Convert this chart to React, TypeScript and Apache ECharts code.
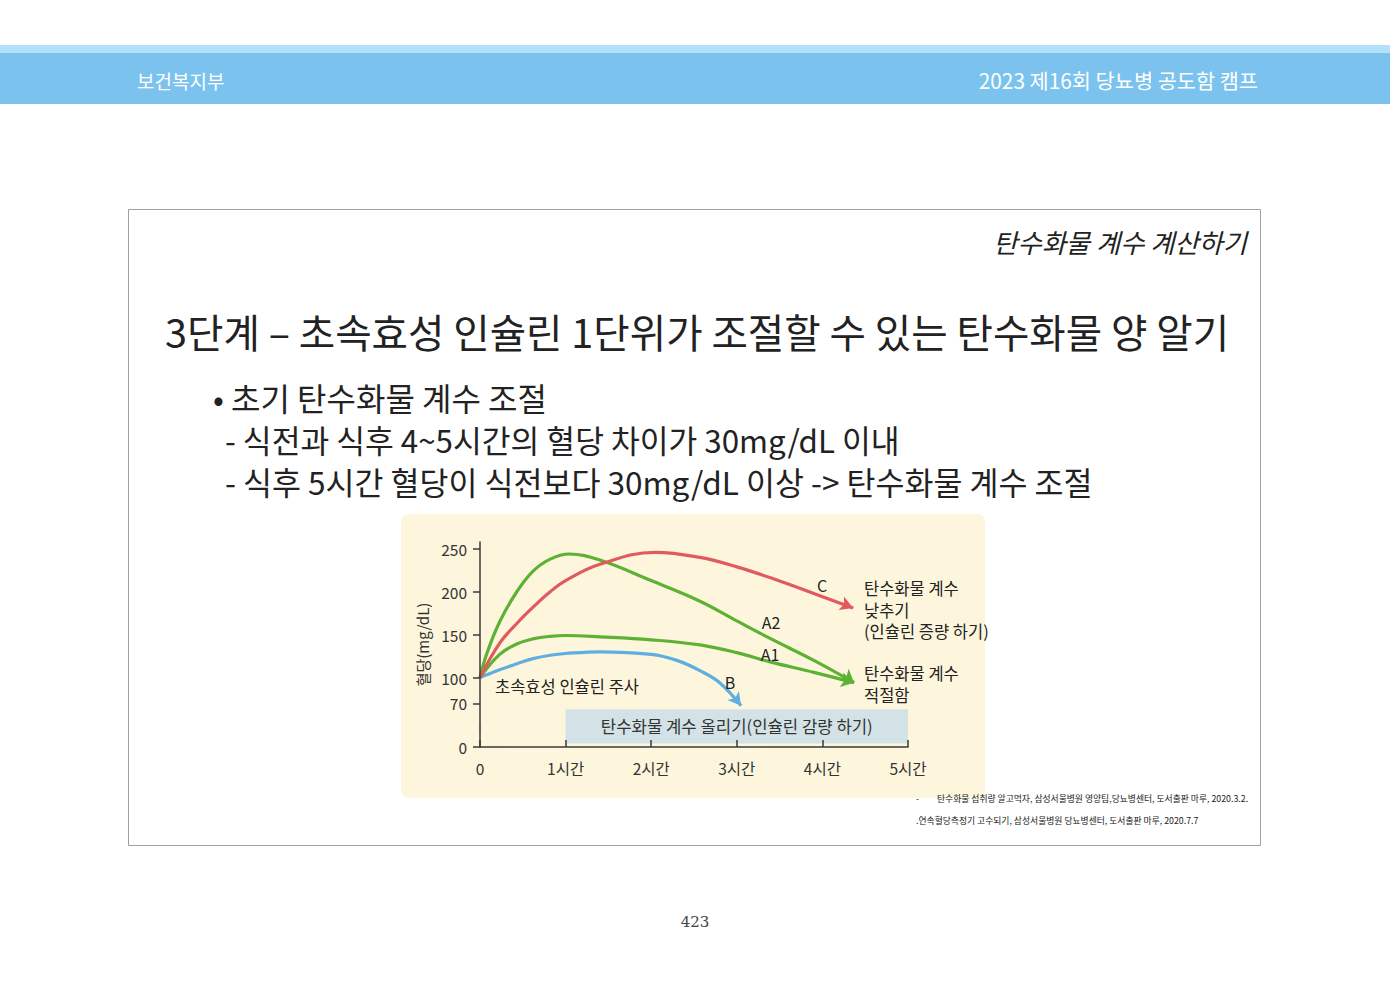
import React, { useEffect, useRef } from 'react';
import * as echarts from 'echarts';

const FONT = '"Noto Sans CJK KR", "Noto Sans", sans-serif';

// ---- axis definitions ----
const xTickValues = [0, 1, 2, 3, 4, 5];
const xTickLabels = ['0', '1시간', '2시간', '3시간', '4시간', '5시간'];
const yTickValues = [0, 70, 100, 150, 200, 250];
const yAxisName = '혈당(mg/dL)';

// ---- curve C (red) ----
const hoursC = [0, 0.23, 0.43, 0.62, 0.82, 1.0, 1.4, 2.05, 2.57, 3.0, 3.46, 3.9, 4.36];
const glucoseC = [100, 140, 163, 182, 200, 213, 232, 246, 240, 229, 214, 198, 181];

// ---- curve A2 (green, high) ----
const hoursA2 = [0, 0.08, 0.23, 0.43, 0.62, 0.82, 1.04, 1.4, 2.0, 2.57, 3.0, 3.4, 3.9, 4.37];
const glucoseA2 = [100, 128, 165, 200, 224, 238, 244, 237, 213, 189, 166, 145, 120, 94];

// ---- curve A1 (green, low) ----
const hoursA1 = [0, 0.23, 0.43, 0.62, 0.82, 1.0, 1.4, 2.0, 2.57, 3.0, 3.4, 3.9, 4.37];
const glucoseA1 = [100, 127, 139, 145, 148, 149, 147.5, 144, 138, 129, 118, 106, 94];

// ---- curve B (blue) ----
const hoursB = [0, 0.23, 0.43, 0.62, 0.82, 1.0, 1.4, 2.0, 2.3, 2.57, 2.8, 3.05];
const glucoseB = [100, 109, 116, 122, 126, 128, 130, 127, 120, 108, 94, 67];

// ---- shaded zone ----
const zoneHours = [1, 5];
const zoneGlucose = [4, 63];
const zoneLabel = '탄수화물 계수 올리기(인슐린 감량 하기)';

// ---- page texts ----
const headerLeft = '보건복지부';
const headerRight = '2023 제16회 당뇨병 공도함 캠프';
const sectionTitle = '탄수화물 계수 계산하기';
const mainTitle = '3단계 – 초속효성 인슐린 1단위가 조절할 수 있는 탄수화물 양 알기';
const bullet1 = '• 초기 탄수화물 계수 조절';
const bullet2 = '- 식전과 식후 4~5시간의 혈당 차이가 30mg/dL 이내';
const bullet3 = '- 식후 5시간 혈당이 식전보다 30mg/dL 이상 -> 탄수화물 계수 조절';
const noteLower = '탄수화물 계수\n낮추기\n(인슐린 증량 하기)';
const noteKeep = '탄수화물 계수\n적절함';
const injectionNote = '초속효성 인슐린 주사';
const footnote1 = '탄수화물 섭취량 알고먹자, 삼성서울병원 영양팀,당뇨병센터, 도서출판 마루, 2020.3.2.';
const footnote2 = '.연속혈당측정기 고수되기, 삼성서울병원 당뇨병센터, 도서출판 마루, 2020.7.7';
const pageNumber = '423';

const RED = '#e05a5e';
const GREEN = '#5db233';
const BLUE = '#5eaee0';

function curve(name: string, hours: number[], values: number[], color: string, rot: number) {
  const data = hours.map((h, i) =>
    i === hours.length - 1
      ? { value: [h, values[i]], symbol: 'arrow', symbolSize: [11, 13], symbolRotate: rot, itemStyle: { color } }
      : { value: [h, values[i]], symbol: 'none' }
  );
  return {
    type: 'line',
    name,
    data,
    smooth: 0.4,
    symbol: 'none',
    showSymbol: true,
    showAllSymbol: true,
    lineStyle: { color, width: 3.2 },
    itemStyle: { color },
    z: 3,
  };
}

function txt(text: string, x: number, y: number, size: number, opts: any = {}) {
  return {
    type: 'text',
    z: 20,
    style: {
      text,
      x,
      y,
      fill: opts.fill || '#222',
      fontSize: size,
      fontFamily: opts.fontFamily || FONT,
      fontStyle: opts.fontStyle || 'normal',
      fontWeight: opts.fontWeight || 'normal',
      align: opts.align || 'left',
      verticalAlign: opts.verticalAlign || 'middle',
      lineHeight: opts.lineHeight,
    },
  };
}

export default function App() {
  const ref = useRef<HTMLDivElement>(null);
  useEffect(() => {
    const chart = echarts.init(ref.current!, null, { renderer: 'svg' });
    const option: any = {
      animation: false,
      backgroundColor: '#ffffff',
      grid: { left: 480, top: 542, width: 428, height: 205, containLabel: false, z: 5 },
      xAxis: {
        type: 'value',
        min: 0,
        max: 5,
        interval: 1,
        z: 5,
        splitLine: { show: false },
        axisLine: { show: true, lineStyle: { color: '#3a3a3a', width: 1.5 } },
        axisTick: { show: true, inside: true, length: 7, lineStyle: { color: '#3a3a3a', width: 1.5 } },
        axisLabel: {
          margin: 13,
          fontSize: 15.5,
          color: '#333',
          fontFamily: FONT,
          formatter: (v: number) => xTickLabels[xTickValues.indexOf(v)] ?? '',
        },
      },
      yAxis: {
        type: 'value',
        min: 0,
        max: 258,
        z: 5,
        breaks: [{ start: 22, end: 41, gap: 0 }],
        breakArea: { show: false },
        name: yAxisName,
        nameLocation: 'middle',
        nameRotate: 90,
        nameGap: 50,
        nameTextStyle: { fontSize: 15, color: '#333', fontFamily: FONT },
        splitLine: { show: false },
        axisLine: { show: true, lineStyle: { color: '#3a3a3a', width: 1.5 } },
        axisTick: { show: true, length: 7, customValues: yTickValues, lineStyle: { color: '#3a3a3a', width: 1.5 } },
        axisLabel: { customValues: yTickValues, margin: 13, fontSize: 15.5, color: '#333', fontFamily: FONT },
      },
      graphic: [
        // header band
        { type: 'rect', z: -20, shape: { x: 0, y: 45, width: 1390, height: 8 }, style: { fill: '#b4e1fa' } },
        { type: 'rect', z: -20, shape: { x: 0, y: 53, width: 1390, height: 51 }, style: { fill: '#7bc3ee' } },
        txt(headerLeft, 137, 80, 19, { fill: '#ffffff' }),
        txt(headerRight, 1258, 80, 20.8, { fill: '#ffffff', align: 'right' }),
        // slide frame
        { type: 'rect', z: -20, shape: { x: 128.5, y: 209.5, width: 1132, height: 636 }, style: { fill: '#ffffff', stroke: '#a0a0a0', lineWidth: 1 } },
        txt(sectionTitle, 1247, 241, 26.3, { fontStyle: 'italic', align: 'right' }),
        txt(mainTitle, 165, 330, 39.6),
        txt(bullet1, 213, 397, 32),
        txt(bullet2, 225, 439, 31.3),
        txt(bullet3, 225, 481, 31.5),
        // chart panel
        { type: 'rect', z: -10, shape: { x: 401, y: 514, width: 584, height: 284, r: 8 }, style: { fill: '#fdf6dd' } },
        txt(injectionNote, 495, 686, 16.5),
        txt('B', 730, 682, 16, { align: 'center' }),
        txt('C', 822, 585, 16, { align: 'center' }),
        txt('A2', 771, 622, 16, { align: 'center' }),
        txt('A1', 770, 654, 16, { align: 'center' }),
        txt(noteLower, 864, 577.5, 16.5, { verticalAlign: 'top', lineHeight: 21.5 }),
        txt(noteKeep, 864, 662.5, 16.5, { verticalAlign: 'top', lineHeight: 21.5 }),
        // footnotes
        txt('-', 916, 798, 8.8),
        txt(footnote1, 937, 798, 8.8),
        txt(footnote2, 916, 820, 8.8),
        txt(pageNumber, 695, 922, 15, { fill: '#444', fontFamily: '"DejaVu Serif", serif', align: 'center' }),
      ],
      series: [
        {
          ...curve('B', hoursB, glucoseB, BLUE, -142),
          markArea: {
            silent: true,
            itemStyle: { color: '#d3e2e6' },
            label: { show: true, position: 'inside', color: '#333', fontSize: 16.7, fontFamily: FONT },
            data: [[
              { xAxis: zoneHours[0], yAxis: zoneGlucose[0], name: zoneLabel },
              { xAxis: zoneHours[1], yAxis: zoneGlucose[1] },
            ]],
          },
        },
        curve('A1', hoursA1, glucoseA1, GREEN, -103),
        curve('A2', hoursA2, glucoseA2, GREEN, -129),
        curve('C', hoursC, glucoseC, RED, -112),
      ],
    };
    chart.setOption(option);
    return () => chart.dispose();
  }, []);
  return (
    <div
      ref={ref}
      style={{ position: 'fixed', left: 0, top: 0, width: 1400, height: 990, background: '#fff' }}
    />
  );
}
